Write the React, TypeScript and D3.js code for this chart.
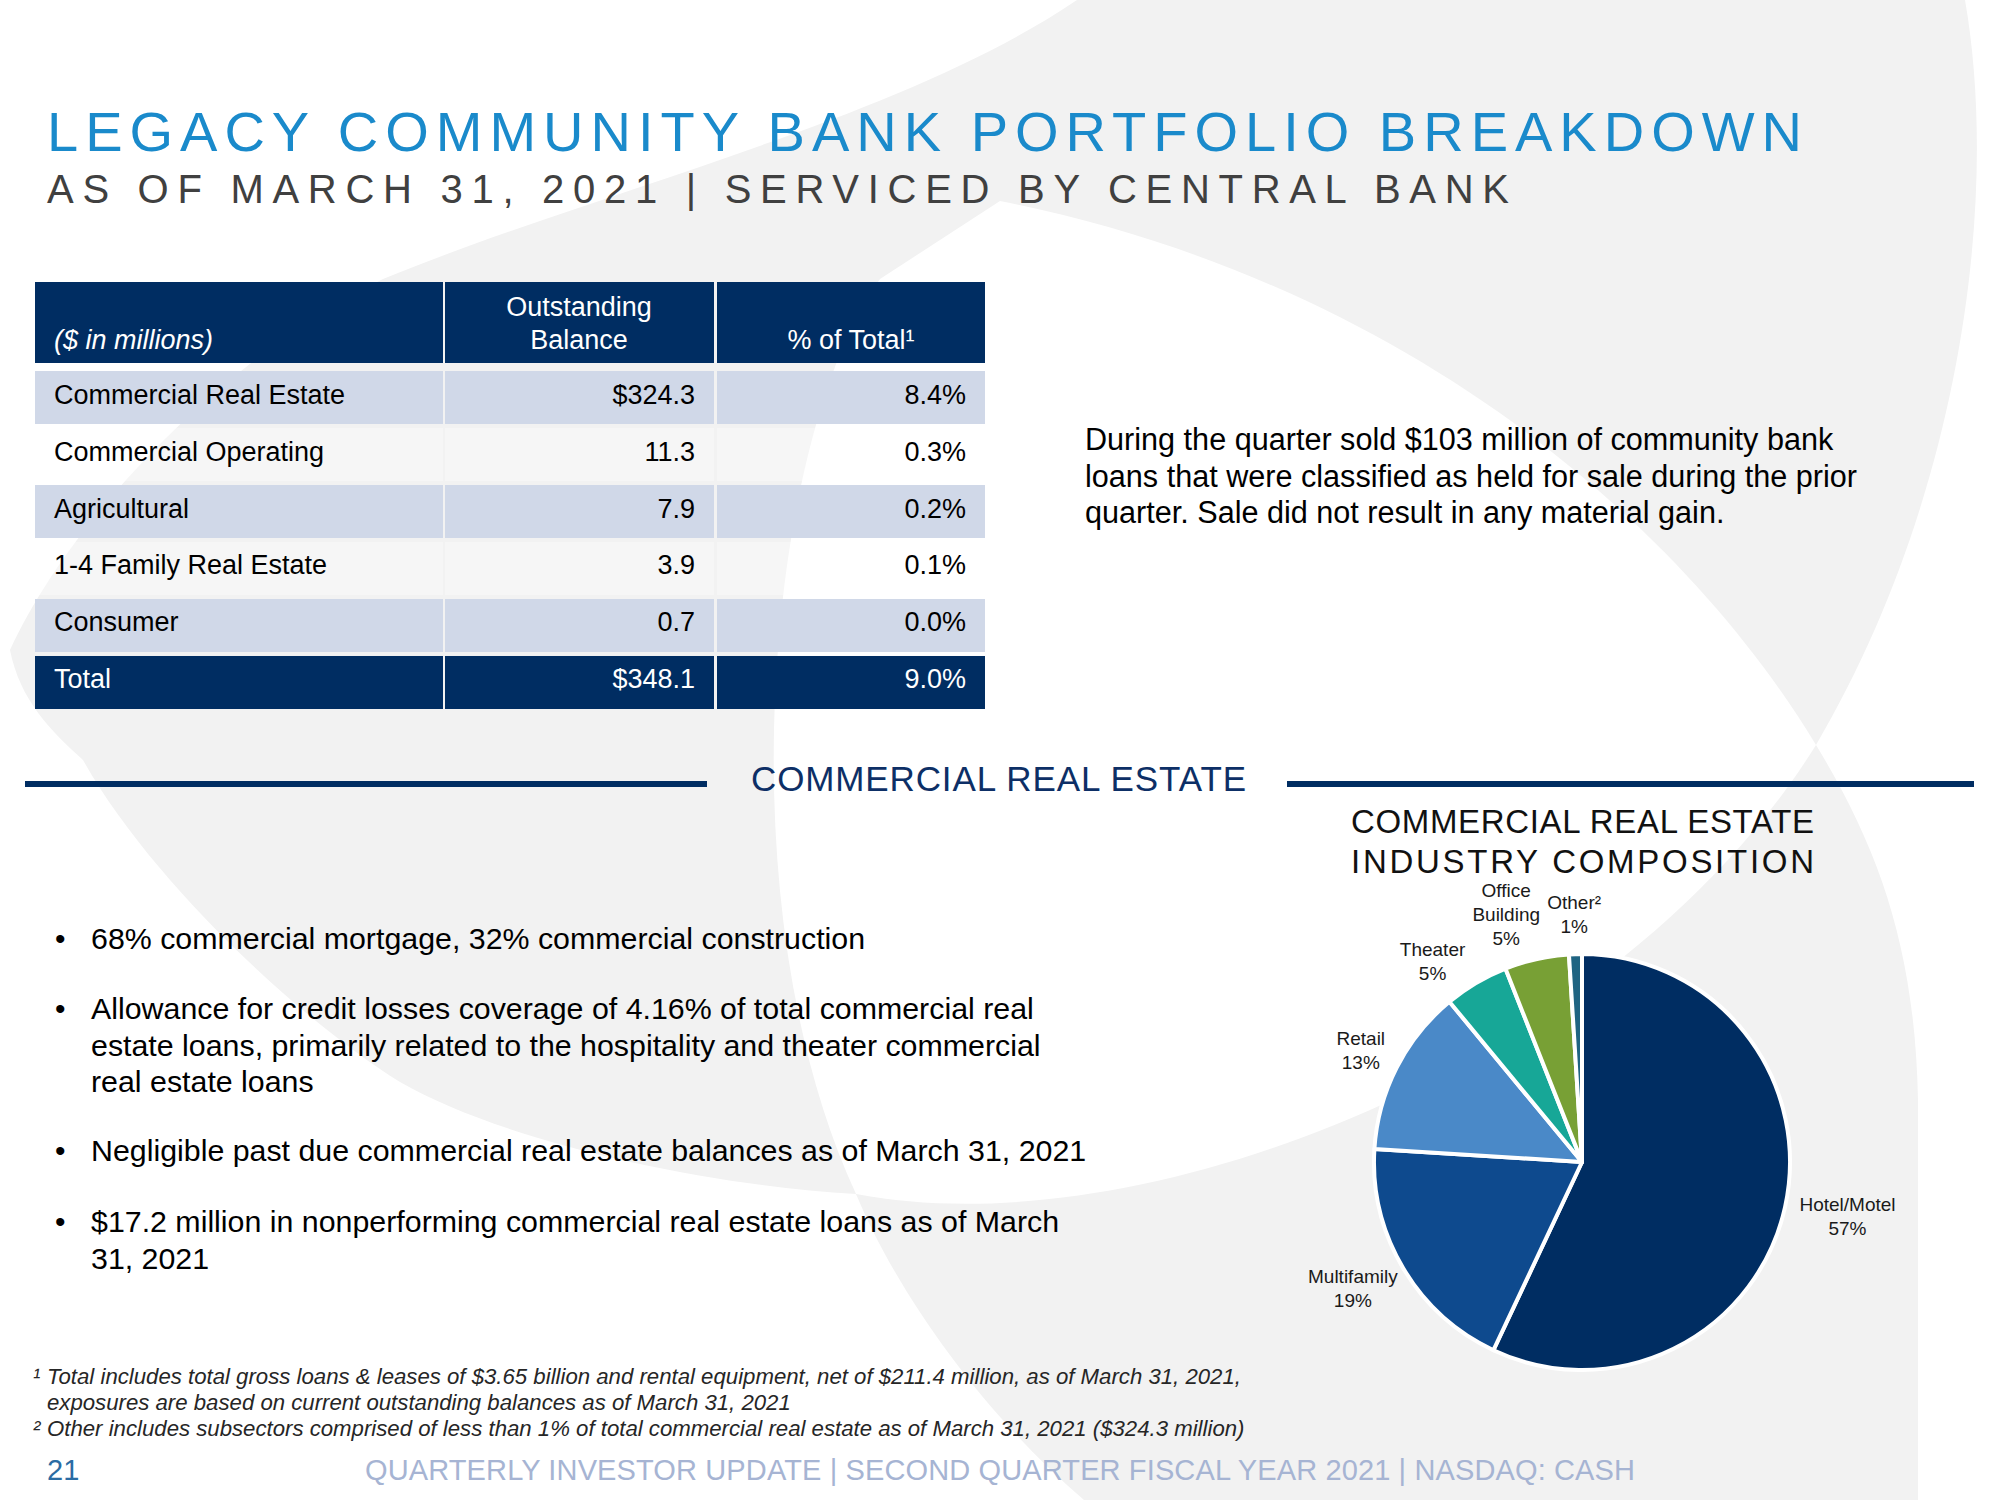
import React from "react";
import * as d3 from "d3";

// ---------- data ----------
const tableCategories = [
  "Commercial Real Estate",
  "Commercial Operating",
  "Agricultural",
  "1-4 Family Real Estate",
  "Consumer",
];
const tableBalances = [324.3, 11.3, 7.9, 3.9, 0.7];
const tablePctOfTotal = [8.4, 0.3, 0.2, 0.1, 0.0];
const totalLabel = "Total";
const totalBalance = 348.1;
const totalPct = 9.0;

const pieCategories = ["Hotel/Motel", "Multifamily", "Retail", "Theater", "Office\nBuilding", "Other²"];
const pieValues = [57, 19, 13, 5, 5, 1];
const pieColors = ["#002d62", "#0e4a8e", "#4a89c8", "#17a797", "#78a035", "#1f6482"];

const bulletItems = [
  ["68% commercial mortgage, 32% commercial construction"],
  [
    "Allowance for credit losses coverage of 4.16% of total commercial real",
    "estate loans, primarily related to the hospitality and theater commercial",
    "real estate loans",
  ],
  ["Negligible past due commercial real estate balances as of March 31, 2021"],
  ["$17.2 million in nonperforming commercial real estate loans as of March", "31, 2021"],
];

const sideNoteLines = [
  "During the quarter sold $103 million of community bank",
  "loans that were classified as held for sale during the prior",
  "quarter. Sale did not result in any material gain.",
];

const footnotes = [
  { mark: "¹", lines: ["Total includes total gross loans & leases of $3.65 billion and rental equipment, net of $211.4 million, as of March 31, 2021,", "exposures are based on current outstanding balances as of March 31, 2021"] },
  { mark: "²", lines: ["Other includes subsectors comprised of less than 1% of total commercial real estate as of March 31, 2021 ($324.3 million)"] },
];

const FONT = "'Liberation Sans', Arial, Helvetica, sans-serif";

// Arial-like advance widths (em) for label width estimates
const ADV: Record<string, number> = {
  O: 0.778, B: 0.667, T: 0.611, R: 0.722, M: 0.833, H: 0.722,
  f: 0.278, i: 0.222, l: 0.222, t: 0.278, r: 0.333, "/": 0.278, "%": 0.889, "²": 0.333, y: 0.5, c: 0.5,
};
function estWidth(s: string, size: number) {
  let w = 0;
  for (const ch of s) w += ADV[ch] ?? 0.556;
  return w * size;
}

export default function App() {
  const W = 2000;
  const H = 1500;

  // table scales
  const colX = [35, 445, 717];
  const colW = [408, 269, 268];
  const rowKeys = [...tableCategories, totalLabel];
  const yRow = d3.scaleBand<string>().domain(rowKeys).range([371, 709]).paddingInner(0.07).paddingOuter(0);
  const bw = yRow.bandwidth();
  const fmt1 = d3.format(".1f");

  // pie
  const cx = 1582;
  const cy = 1162;
  const r = 208;
  const pieGen = d3.pie<number>().sort(null).value((d) => d).startAngle(0).endAngle(2 * Math.PI);
  const arcs = pieGen(pieValues);
  const arcGen = d3.arc<d3.PieArcDatum<number>>().innerRadius(0).outerRadius(r);

  const labelSize = 19;
  const lineH = 24;
  const gap = 16;

  // label layout: place outside the arc, then rotate colliding labels counter-clockwise
  const labels = arcs.map((a, i) => {
    const lines = [...pieCategories[i].split("\n"), pieValues[i] + "%"];
    const w = Math.max(...lines.map((l) => estWidth(l, labelSize)));
    const h = lines.length * lineH;
    return { lines, w, h, theta: (a.startAngle + a.endAngle) / 2, x: 0, y: 0 };
  });
  const place = (L: typeof labels[number]) => {
    const sx = Math.sin(L.theta);
    const sy = -Math.cos(L.theta);
    L.x = (r + gap) * sx + (sx * L.w) / 2;
    L.y = (r + gap) * sy + (sy * L.h) / 2;
  };
  labels.forEach(place);
  const pad = 6;
  const overlap = (A: typeof labels[number], B: typeof labels[number]) =>
    Math.abs(A.x - B.x) < (A.w + B.w) / 2 + pad && Math.abs(A.y - B.y) < (A.h + B.h) / 2 - 4;
  for (let i = labels.length - 2; i >= 1; i--) {
    let it = 0;
    while (overlap(labels[i], labels[i + 1]) && it < 200) {
      labels[i].theta -= (0.5 * Math.PI) / 180;
      place(labels[i]);
      it++;
    }
  }

  return (
    <svg
      width={W}
      height={H}
      viewBox={`0 0 ${W} ${H}`}
      style={{ position: "absolute", left: 0, top: 0, display: "block", background: "#ffffff" }}
      fontFamily={FONT}
    >
      {/* background swoosh */}
      <path
        fill="#f2f2f2"
        d="M 1077,0 L 1965,0 C 2000,200 1960,500 1816,745 C 1880,850 1915,950 1918,1100 L 1918,1500 L 1084,1500 C 990,1420 900,1300 856,1194 C 700,1185 500,1140 400,1082 C 300,1020 150,880 83,760 C 50,730 20,700 10,650 C 70,520 220,360 383,279 C 600,190 900,120 1077,0 Z"
      />
      <path
        fill="#ffffff"
        d="M 1816,745 C 1680,520 1400,280 1000,201 L 880,279 C 770,430 720,900 856,1194 C 1150,1250 1620,1060 1816,745 Z"
      />

      {/* title */}
      <text x={47} y={151} fontSize={56} fill="#1a8acb" textLength={1755} lengthAdjust="spacing">
        LEGACY COMMUNITY BANK PORTFOLIO BREAKDOWN
      </text>
      <text x={47} y={203} fontSize={40} fill="#404040" textLength={1462} lengthAdjust="spacing">
        AS OF MARCH 31, 2021 | SERVICED BY CENTRAL BANK
      </text>

      {/* table header */}
      {colX.map((x, i) => (
        <rect key={"h" + i} x={x} y={282} width={colW[i]} height={81} fill="#002d62" />
      ))}
      <text x={54} y={349} fontSize={27} fill="#ffffff" fontStyle="italic">($ in millions)</text>
      <text x={579} y={316} fontSize={27} fill="#ffffff" textAnchor="middle">Outstanding</text>
      <text x={579} y={349} fontSize={27} fill="#ffffff" textAnchor="middle">Balance</text>
      <text x={851} y={349} fontSize={27} fill="#ffffff" textAnchor="middle">% of Total¹</text>

      {/* table body */}
      {rowKeys.map((k, ri) => {
        const isTotal = k === totalLabel;
        const y0 = yRow(k) as number;
        const fill = isTotal ? "#002d62" : ri % 2 === 0 ? "#d0d8e8" : "rgba(255,255,255,0.35)";
        const tc = isTotal ? "#ffffff" : "#000000";
        const bal = isTotal ? totalBalance : tableBalances[ri];
        const pct = isTotal ? totalPct : tablePctOfTotal[ri];
        const balStr = (ri === 0 || isTotal ? "$" : "") + fmt1(bal);
        const ty = y0 + bw / 2 + 6;
        return (
          <g key={k}>
            {colX.map((x, ci) => (
              <rect key={ci} x={x} y={y0} width={colW[ci]} height={bw} fill={fill} />
            ))}
            <text x={54} y={ty} fontSize={27} fill={tc}>{k}</text>
            <text x={695} y={ty} fontSize={27} fill={tc} textAnchor="end">{balStr}</text>
            <text x={966} y={ty} fontSize={27} fill={tc} textAnchor="end">{fmt1(pct) + "%"}</text>
          </g>
        );
      })}

      {/* side note */}
      {sideNoteLines.map((l, i) => (
        <text key={"sn" + i} x={1085} y={450 + i * 36.5} fontSize={30.6} fill="#000000">{l}</text>
      ))}

      {/* section divider */}
      <rect x={25} y={781} width={682} height={6} fill="#002d62" />
      <rect x={1287} y={781} width={687} height={6} fill="#002d62" />
      <text x={751} y={791} fontSize={35} fill="#0d2f66" textLength={495} lengthAdjust="spacing">
        COMMERCIAL REAL ESTATE
      </text>

      {/* bullets */}
      {(() => {
        const starts = [949, 1019, 1161, 1232];
        return bulletItems.map((lines, bi) => (
          <g key={"b" + bi}>
            <text x={55} y={starts[bi]} fontSize={30} fill="#000000">•</text>
            {lines.map((l, li) => (
              <text key={li} x={91} y={starts[bi] + li * 36.5} fontSize={30.35} fill="#000000">{l}</text>
            ))}
          </g>
        ));
      })()}

      {/* pie title */}
      <text x={1351} y={833} fontSize={33} fill="#111111" textLength={463} lengthAdjust="spacing">
        COMMERCIAL REAL ESTATE
      </text>
      <text x={1351} y={873} fontSize={33} fill="#111111" textLength={463} lengthAdjust="spacing">
        INDUSTRY COMPOSITION
      </text>

      {/* pie */}
      <g transform={`translate(${cx},${cy})`}>
        {arcs.map((a, i) => (
          <path key={"arc" + i} d={arcGen(a) as string} fill={pieColors[i]} stroke="#ffffff" strokeWidth={4} strokeLinejoin="round" />
        ))}
        {labels.map((L, i) => (
          <g key={"lab" + i}>
            {L.lines.map((l, li) => (
              <text
                key={li}
                x={L.x}
                y={L.y - L.h / 2 + lineH * 0.8 + li * lineH}
                fontSize={labelSize}
                fill="#1a1a1a"
                textAnchor="middle"
              >
                {l}
              </text>
            ))}
          </g>
        ))}
      </g>

      {/* footnotes */}
      {(() => {
        let y = 1384;
        const out: any[] = [];
        footnotes.forEach((f, fi) => {
          f.lines.forEach((l, li) => {
            out.push(
              <g key={"fn" + fi + "_" + li}>
                {li === 0 && (
                  <text x={33} y={y} fontSize={22} fill="#262626" fontStyle="italic">{f.mark}</text>
                )}
                <text x={47} y={y} fontSize={22.2} fill="#262626" fontStyle="italic">{l}</text>
              </g>
            );
            y += 26;
          });
        });
        return out;
      })()}

      {/* footer */}
      <text x={47} y={1480} fontSize={29} fill="#2b6ca3">21</text>
      <text x={365} y={1480} fontSize={29} fill="#a6b4d3" textLength={1270} lengthAdjust="spacing">
        QUARTERLY INVESTOR UPDATE | SECOND QUARTER FISCAL YEAR 2021 | NASDAQ: CASH
      </text>
    </svg>
  );
}
